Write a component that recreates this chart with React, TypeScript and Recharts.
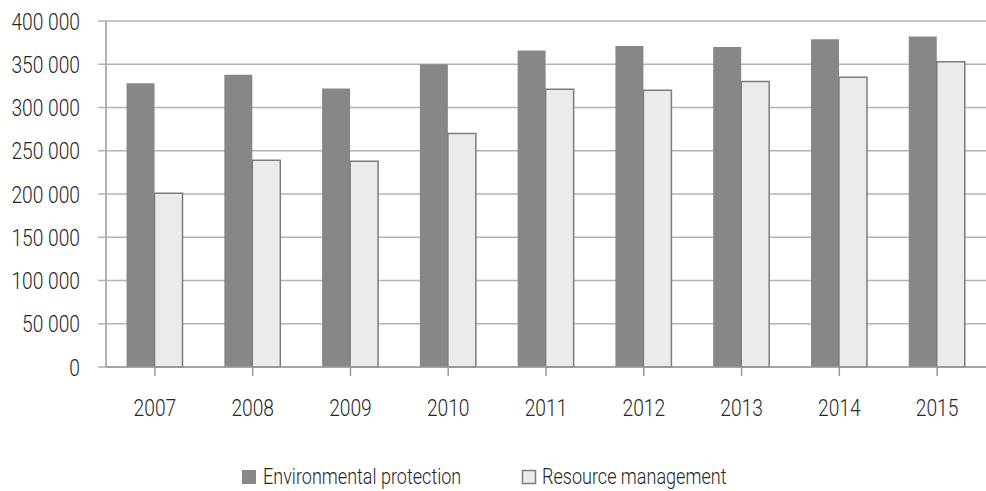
import React from "react";
import { BarChart, Bar, XAxis, YAxis, CartesianGrid, Legend } from "recharts";

const years = ["2007", "2008", "2009", "2010", "2011", "2012", "2013", "2014", "2015"];
const environmentalProtection = [328000, 338000, 322000, 350000, 366000, 371000, 370000, 379000, 382000];
const resourceManagement = [201000, 239000, 238000, 270000, 321000, 320000, 330000, 335000, 353000];
const yTicks = [0, 50000, 100000, 150000, 200000, 250000, 300000, 350000, 400000];

const seriesNames = ["Environmental protection", "Resource management"];
const DARK = "#878787";
const LIGHT = "#ebebeb";
const LIGHT_STROKE = "#7c7c7c";
const TEXT = "#262626";
const FONT = "Roboto, sans-serif";
const SX = 0.8;

const data = years.map((y, i) => ({
  year: y,
  env: environmentalProtection[i],
  res: resourceManagement[i],
}));

const fmt = (v: number) => {
  if (v === 0) return "0";
  const th = Math.floor(v / 1000);
  const rest = String(v % 1000).padStart(3, "0");
  return `${th} ${rest}`;
};

const YTick = (props: any) => {
  const { x, y, payload } = props;
  return (
    <g transform={`translate(${x},${y})`}>
      <text transform={`scale(${SX},1)`} textAnchor="end" dy="0.36em" fill={TEXT} fontFamily={FONT} fontWeight={300} fontSize={24}>
        {fmt(payload.value)}
      </text>
    </g>
  );
};

const XTick = (props: any) => {
  const { x, y, payload } = props;
  return (
    <g transform={`translate(${x},${y})`}>
      <text transform={`scale(${SX},1)`} textAnchor="middle" dy="0.71em" fill={TEXT} fontFamily={FONT} fontWeight={300} fontSize={24}>
        {payload.value}
      </text>
    </g>
  );
};

const LegendContent = () => (
  <svg width={986} height={36} style={{ display: "block" }}>
    <rect x={242} y={15} width={14} height={14} fill={DARK} />
    <text transform={`translate(263,29) scale(0.82,1)`} fill={TEXT} fontFamily={FONT} fontWeight={300} fontSize={22}>
      {seriesNames[0]}
    </text>
    <rect x={522.5} y={15.5} width={13} height={13} fill={LIGHT} stroke={LIGHT_STROKE} strokeWidth={1.5} />
    <text transform={`translate(542,29) scale(0.82,1)`} fill={TEXT} fontFamily={FONT} fontWeight={300} fontSize={22}>
      {seriesNames[1]}
    </text>
  </svg>
);

export default function App() {
  return (
    <div style={{ position: "absolute", left: 0, top: 0, width: 986, height: 491, background: "#fff" }}>
      <BarChart
        width={986}
        height={491}
        data={data}
        margin={{ top: 21, right: 0, left: 0, bottom: 28 }}
        barCategoryGap="21%"
        barGap={0}
      >
        <CartesianGrid vertical={false} stroke="#b3b3b3" strokeWidth={1.5} />
        <XAxis
          dataKey="year"
          height={60}
          tick={<XTick />}
          tickSize={9}
          tickMargin={23}
          axisLine={{ stroke: "#9a9a9a", strokeWidth: 1.5 }}
          tickLine={{ stroke: "#9a9a9a", strokeWidth: 1.5 }}
          interval={0}
        />
        <YAxis
          width={106}
          domain={[0, 400000]}
          ticks={yTicks}
          interval={0}
          tick={<YTick />}
          tickSize={8}
          tickMargin={18}
          axisLine={{ stroke: "#9a9a9a", strokeWidth: 1.5 }}
          tickLine={{ stroke: "#b3b3b3", strokeWidth: 1.5 }}
        />
        <Legend
          verticalAlign="bottom"
          content={<LegendContent />}
          wrapperStyle={{ position: "absolute", left: 0, top: 455, width: 986, height: 36 }}
        />
        <Bar dataKey="env" name={seriesNames[0]} fill={DARK} isAnimationActive={false} />
        <Bar dataKey="res" name={seriesNames[1]} fill={LIGHT} stroke={LIGHT_STROKE} strokeWidth={1.5} isAnimationActive={false} />
      </BarChart>
    </div>
  );
}
